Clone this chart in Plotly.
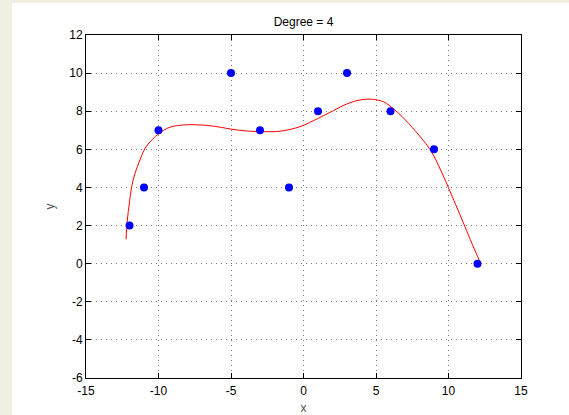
import plotly.graph_objects as go

# Data points
x_pts = [-12, -11, -10, -5, -3, -1, 1, 3, 6, 9, 12]
y_pts = [2, 4, 7, 10, 7, 4, 8, 10, 8, 6, 0]

# Fitted curve, values
x_fit = [-12.24, -12.15, -12.01, -11.85, -11.62, -11.28, -10.93, -10.47, -9.90, -9.21,
         -8.29, -7.37, -6.22, -5.07, -3.92, -2.77, -1.62, -0.24, 1.02, 2.06, 2.98,
         3.90, 4.70, 5.51, 5.90, 6.31, 6.80, 7.25, 7.75, 8.25, 8.60, 8.95, 9.30,
         9.65, 10.00, 10.50, 11.00, 11.50, 12.15]
y_fit = [1.28, 2.29, 3.17, 4.04, 4.74, 5.44, 6.05, 6.49, 6.87, 7.16,
         7.28, 7.29, 7.22, 7.07, 6.96, 6.93, 6.95, 7.19, 7.63, 8.03, 8.38,
         8.59, 8.63, 8.50, 8.31, 8.06, 7.72, 7.36, 6.93, 6.48, 6.13, 5.71, 5.17,
         4.59, 3.98, 3.09, 2.19, 1.27, 0.12]

x_ticks = [-15, -10, -5, 0, 5, 10, 15]
y_ticks = [-6, -4, -2, 0, 2, 4, 6, 8, 10, 12]

W, H = 569, 415
L, R, T, B = 86, 48, 35, 37
pw, ph = W - L - R, H - T - B

fig = go.Figure()
fig.add_trace(go.Scatter(x=x_fit, y=y_fit, mode="lines",
                         line=dict(color="#ff0000", width=1, shape="spline", smoothing=1.0),
                         showlegend=False, hoverinfo="skip"))
fig.add_trace(go.Scatter(x=x_pts, y=y_pts, mode="markers",
                         marker=dict(color="#0000ff", size=8, line=dict(width=0)),
                         showlegend=False))

font = dict(family="Liberation Sans, Arial, sans-serif", size=12, color="#000000")

axis_common = dict(
    showline=True, linecolor="#000000", linewidth=1, mirror="allticks",
    ticks="inside", ticklen=5, tickcolor="#000000", tickwidth=1,
    showgrid=True, gridcolor="#7a7a7a", gridwidth=1, griddash="1px,4px",
    zeroline=False, tickfont=font, automargin=False,
)

fig.update_xaxes(range=[-15, 15], tickvals=x_ticks, ticktext=[str(v) for v in x_ticks],
                 title=dict(text="x", font=dict(family=font["family"], size=12, color="#555555")),
                 ticklabelstandoff=2,
                 **axis_common)
fig.update_yaxes(range=[-6, 12], tickvals=y_ticks, ticktext=[str(v) for v in y_ticks],
                 title=dict(text="y", font=dict(family=font["family"], size=12, color="#555555"),
                            standoff=12),
                 **axis_common)

# white figure area on beige frame
fig.add_shape(type="rect", xref="paper", yref="paper", layer="below",
              x0=(12 - L) / pw, x1=1 + (R + 5) / pw,
              y0=-(B + 5) / ph, y1=1 + (T - 3) / ph,
              fillcolor="#ffffff", line=dict(width=0))

fig.update_layout(
    width=W, height=H,
    margin=dict(l=L, r=R, t=T, b=B, autoexpand=False),
    paper_bgcolor="#f1efe2", plot_bgcolor="#ffffff",
    title=dict(text="Degree = 4", x=(L + pw / 2) / W, xanchor="center",
               y=1 - 22 / H, yanchor="middle",
               font=dict(family=font["family"], size=12, color="#000000")),
    font=font,
)

fig.write_html("out.html")
